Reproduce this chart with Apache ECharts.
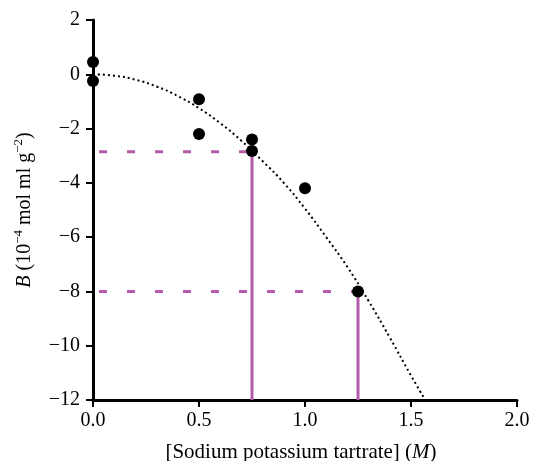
<!DOCTYPE html>
<html>
<head>
<meta charset="utf-8">
<script src="https://cdn.jsdelivr.net/npm/echarts@6/dist/echarts.min.js"></script>
<style>html,body{margin:0;padding:0;background:#fff}#c{width:534px;height:461px}</style>
</head>
<body>
<div id="c"></div>
<script>
// Measured points
var pointX = [0, 0, 0.5, 0.5, 0.75, 0.75, 1.0, 1.25];
var pointY = [0.45, -0.25, -0.92, -2.2, -2.4, -2.83, -4.2, -8.0];
// Dotted fitted curve
var curveX = [0, 0.1, 0.2, 0.3, 0.4, 0.5, 0.6, 0.7, 0.8, 0.9, 1.0, 1.1, 1.2, 1.3, 1.4, 1.5, 1.56];
var curveY = [0, -0.05, -0.2, -0.45, -0.8, -1.25, -1.8, -2.45, -3.2, -4.0, -4.95, -6.0, -7.1, -8.35, -9.7, -11.1, -11.9];
// Reference (magenta) lines
var refX = [0.75, 1.25];
var refY = [-2.85, -8.0];
var xTicks = [0, 0.5, 1.0, 1.5, 2.0];
var yTicks = [2, 0, -2, -4, -6, -8, -10, -12];

var xMin = 0, xMax = 2, yMin = -12, yMax = 2;
var magenta = '#b35ba8';
var font = '"Liberation Serif", "Times New Roman", serif';

var series = [];
refX.forEach(function (rx, i) {
  series.push({
    type: 'line', data: [[xMin, refY[i]], [rx, refY[i]]], symbol: 'none', silent: true,
    lineStyle: { color: magenta, width: 3, type: [8, 20], dashOffset: -6 }, z: 2
  });
  series.push({
    type: 'line', data: [[rx, refY[i]], [rx, yMin]], symbol: 'none', silent: true,
    lineStyle: { color: magenta, width: 3, type: 'solid' }, z: 2
  });
});
series.push({
  type: 'line', data: curveX.map(function (x, i) { return [x, curveY[i]]; }),
  symbol: 'none', smooth: true, silent: true,
  lineStyle: { color: '#000', width: 2, type: [2, 3] }, z: 3
});
series.push({
  type: 'scatter', data: pointX.map(function (x, i) { return [x, pointY[i]]; }),
  symbol: 'circle', symbolSize: 12, itemStyle: { color: '#000', opacity: 1 }, z: 4
});

var chart = echarts.init(document.getElementById('c'));
chart.setOption({
  animation: false,
  grid: { left: 93, right: 17, top: 20, bottom: 61, containLabel: false, outerBoundsMode: 'none' },
  xAxis: {
    type: 'value', min: xMin, max: xMax, interval: 0.5,
    name: '[Sodium potassium tartrate] ({i|M})',
    nameLocation: 'middle', nameGap: 42,
    nameTextStyle: { fontFamily: font, fontSize: 21, color: '#000', padding: [0, 8, 0, 0],
      rich: { i: { fontFamily: font, fontSize: 21, fontStyle: 'italic', color: '#000' } } },
    axisLine: { show: true, onZero: false, lineStyle: { color: '#000', width: 3 } },
    axisTick: { show: true, length: 7, lineStyle: { color: '#000', width: 2 } },
    axisLabel: { fontFamily: font, fontSize: 20, color: '#000', margin: 11,
      formatter: function (v) { return v.toFixed(1); } },
    splitLine: { show: false }
  },
  yAxis: {
    type: 'value', min: yMin, max: yMax, interval: 2,
    name: '{i|B} (10{s|−4} mol ml g{s|−2})',
    nameLocation: 'middle', nameGap: 53, nameRotate: 90,
    nameTextStyle: { fontFamily: font, fontSize: 20, color: '#000', lineHeight: 26,
      rich: {
        i: { fontFamily: font, fontSize: 20, fontStyle: 'italic', color: '#000', lineHeight: 26 },
        s: { fontFamily: font, fontSize: 13, color: '#000', verticalAlign: 'top', lineHeight: 26 }
      } },
    axisLine: { show: true, onZero: false, lineStyle: { color: '#000', width: 3 } },
    axisTick: { show: true, length: 7, lineStyle: { color: '#000', width: 2 } },
    axisLabel: { fontFamily: font, fontSize: 20, color: '#000', margin: 13,
      formatter: function (v) { return v < 0 ? '−' + Math.abs(v) : String(v); } },
    splitLine: { show: false }
  },
  series: series
});
</script>
</body>
</html>
